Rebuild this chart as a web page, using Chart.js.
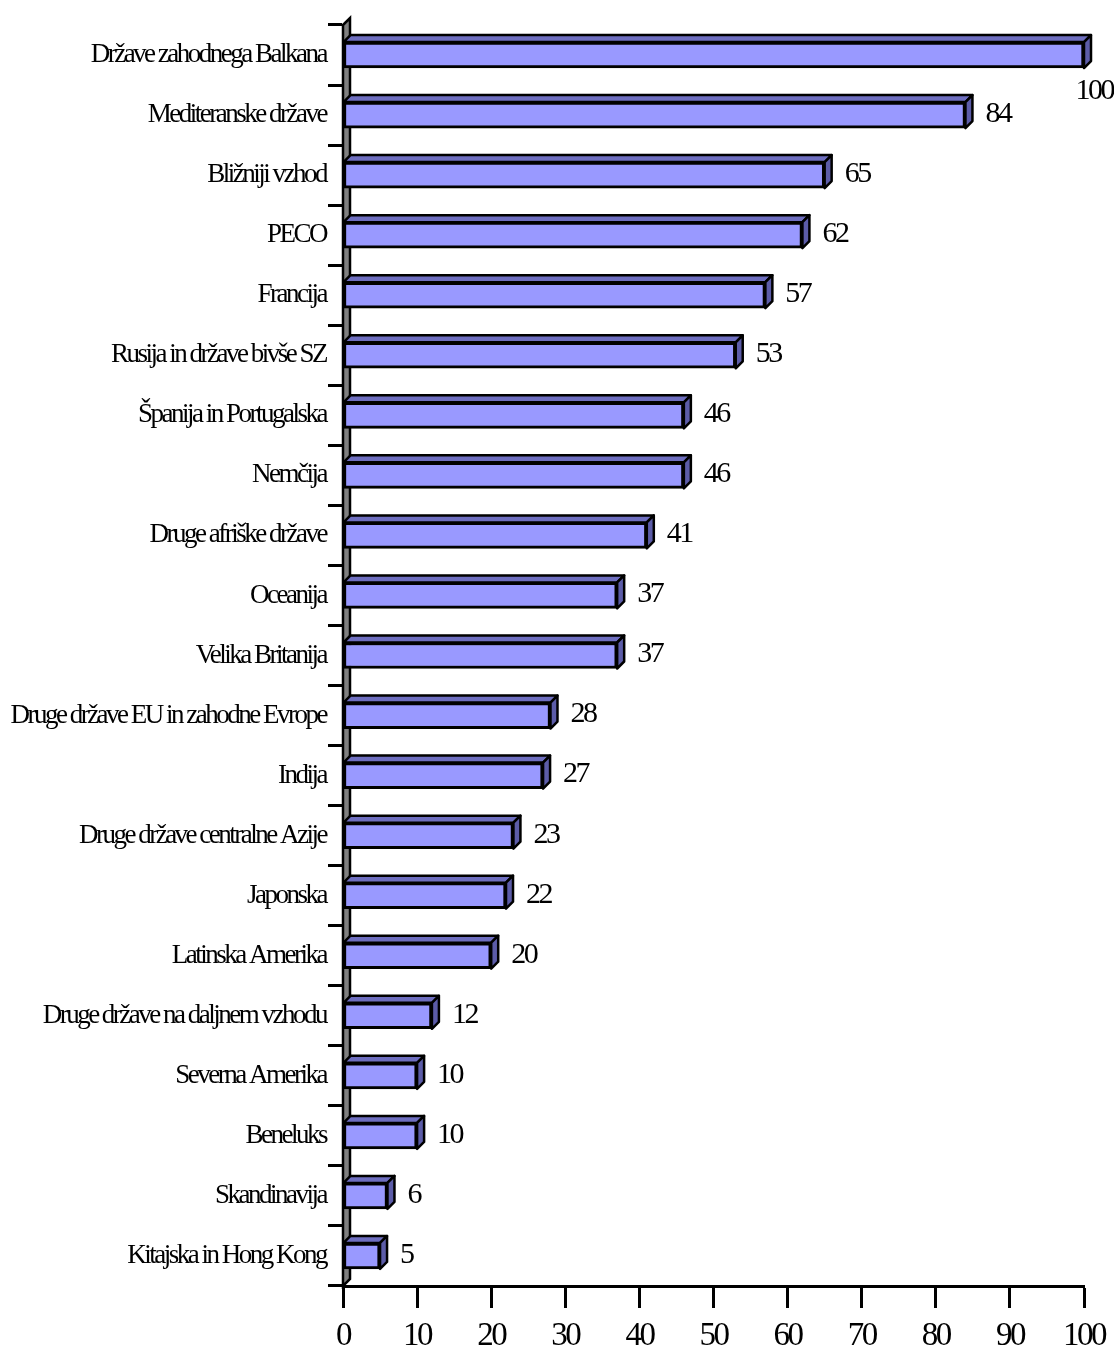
<!DOCTYPE html>
<html>
<head>
<meta charset="utf-8">
<script src="https://cdn.jsdelivr.net/npm/chart.js@4/dist/chart.umd.min.js"></script>
<style>
  html, body { margin: 0; padding: 0; background: #fff; }
  #wrap { width: 1114px; height: 1351px; }
</style>
</head>
<body>
<div id="wrap"><canvas id="chart"></canvas></div>
<script>
const regions = [
    'Države zahodnega Balkana',
    'Mediteranske države',
    'Bližniji vzhod',
    'PECO',
    'Francija',
    'Rusija in države bivše SZ',
    'Španija in Portugalska',
    'Nemčija',
    'Druge afriške države',
    'Oceanija',
    'Velika Britanija',
    'Druge države EU in zahodne Evrope',
    'Indija',
    'Druge države centralne Azije',
    'Japonska',
    'Latinska Amerika',
    'Druge države na daljnem vzhodu',
    'Severna Amerika',
    'Beneluks',
    'Skandinavija',
    'Kitajska in Hong Kong'
];
const scores = [100, 84, 65, 62, 57, 53, 46, 46, 41, 37, 37, 28, 27, 23, 22, 20, 12, 10, 10, 6, 5];
const axisMin = 0;
const axisMax = 100;
const axisStep = 10;

const FONT = '"Liberation Serif", "Times New Roman", serif';
const DEPTH = 7;
const SPACING = '-2.5px';

// old excel style: tight letters
const tightText = {
    id: 'tightText',
    beforeInit(chart) { chart.ctx.letterSpacing = SPACING; },
    beforeLayout(chart) { chart.ctx.letterSpacing = SPACING; },
    beforeDraw(chart) { chart.ctx.letterSpacing = SPACING; }
};

// grey back wall of the 3d plot
const wall = {
    id: 'wall',
    beforeDatasetsDraw(chart) {
        const ctx = chart.ctx;
        const a = chart.chartArea;
        ctx.save();
        ctx.beginPath();
        ctx.moveTo(a.left, a.top);
        ctx.lineTo(a.left + DEPTH, a.top - DEPTH);
        ctx.lineTo(a.left + DEPTH, a.bottom - DEPTH);
        ctx.lineTo(a.left, a.bottom);
        ctx.closePath();
        ctx.fillStyle = '#808080';
        ctx.fill();
        ctx.lineWidth = 2.5;
        ctx.strokeStyle = '#000';
        ctx.stroke();
        ctx.restore();
    }
};

// top + side faces and the value labels
const bars3d = {
    id: 'bars3d',
    afterDatasetsDraw(chart) {
        const ctx = chart.ctx;
        const meta = chart.getDatasetMeta(0);
        ctx.save();
        ctx.lineWidth = 2.5;
        ctx.strokeStyle = '#000';
        ctx.lineJoin = 'round';
        meta.data.forEach((bar, i) => {
            const p = bar.getProps(['x', 'y', 'base', 'height'], true);
            const top = p.y - p.height / 2;
            const bottom = p.y + p.height / 2;

            ctx.beginPath();
            ctx.moveTo(p.base, top);
            ctx.lineTo(p.base + DEPTH, top - DEPTH);
            ctx.lineTo(p.x + DEPTH, top - DEPTH);
            ctx.lineTo(p.x, top);
            ctx.closePath();
            ctx.fillStyle = '#6E6EBF';
            ctx.fill();
            ctx.stroke();

            ctx.beginPath();
            ctx.moveTo(p.x, top);
            ctx.lineTo(p.x + DEPTH, top - DEPTH);
            ctx.lineTo(p.x + DEPTH, bottom - DEPTH);
            ctx.lineTo(p.x, bottom);
            ctx.closePath();
            ctx.fillStyle = '#5C5CA8';
            ctx.fill();
            ctx.stroke();

            // label
            ctx.font = '30px ' + FONT;
            ctx.letterSpacing = SPACING;
            ctx.fillStyle = '#000';
            ctx.textBaseline = 'middle';
            ctx.textAlign = 'left';
            const txt = String(scores[i]);
            const w = ctx.measureText(txt).width;
            let lx = p.x + DEPTH + 13;
            let ly = p.y - 1;
            if (lx + w > chart.width) {
                lx = chart.width - w - 1;
                ly = p.y + 36;
            }
            ctx.fillText(txt, lx, ly);
        });
        ctx.restore();
    }
};

new Chart(document.getElementById('chart'), {
    type: 'bar',
    data: {
        labels: regions,
        datasets: [{
            data: scores,
            backgroundColor: '#9999FF',
            borderColor: '#000',
            borderWidth: 3,
            barThickness: 26,
            borderSkipped: false
        }]
    },
    options: {
        indexAxis: 'y',
        responsive: true,
        maintainAspectRatio: false,
        animation: false,
        layout: { padding: { top: 25, right: 28, left: 0, bottom: 0 } },
        plugins: {
            legend: { display: false },
            tooltip: { enabled: false }
        },
        scales: {
            x: {
                min: axisMin,
                max: axisMax,
                ticks: {
                    stepSize: axisStep,
                    color: '#000',
                    padding: 9,
                    maxRotation: 0,
                    font: { family: FONT, size: 33 }
                },
                grid: {
                    drawOnChartArea: false,
                    drawTicks: true,
                    tickLength: 22,
                    tickWidth: 3,
                    tickColor: '#000'
                },
                border: { color: '#000', width: 3 },
                afterFit(scale) { scale.height = 65; }
            },
            y: {
                ticks: {
                    color: '#000',
                    padding: 2,
                    autoSkip: false,
                    font: { family: FONT, size: 27 }
                },
                grid: {
                    offset: true,
                    drawOnChartArea: false,
                    drawTicks: true,
                    tickLength: 15,
                    tickWidth: 3,
                    tickColor: '#000'
                },
                border: { color: '#000', width: 3 },
                afterFit(scale) { scale.width = 343; }
            }
        }
    },
    plugins: [tightText, wall, bars3d]
});
</script>
</body>
</html>
